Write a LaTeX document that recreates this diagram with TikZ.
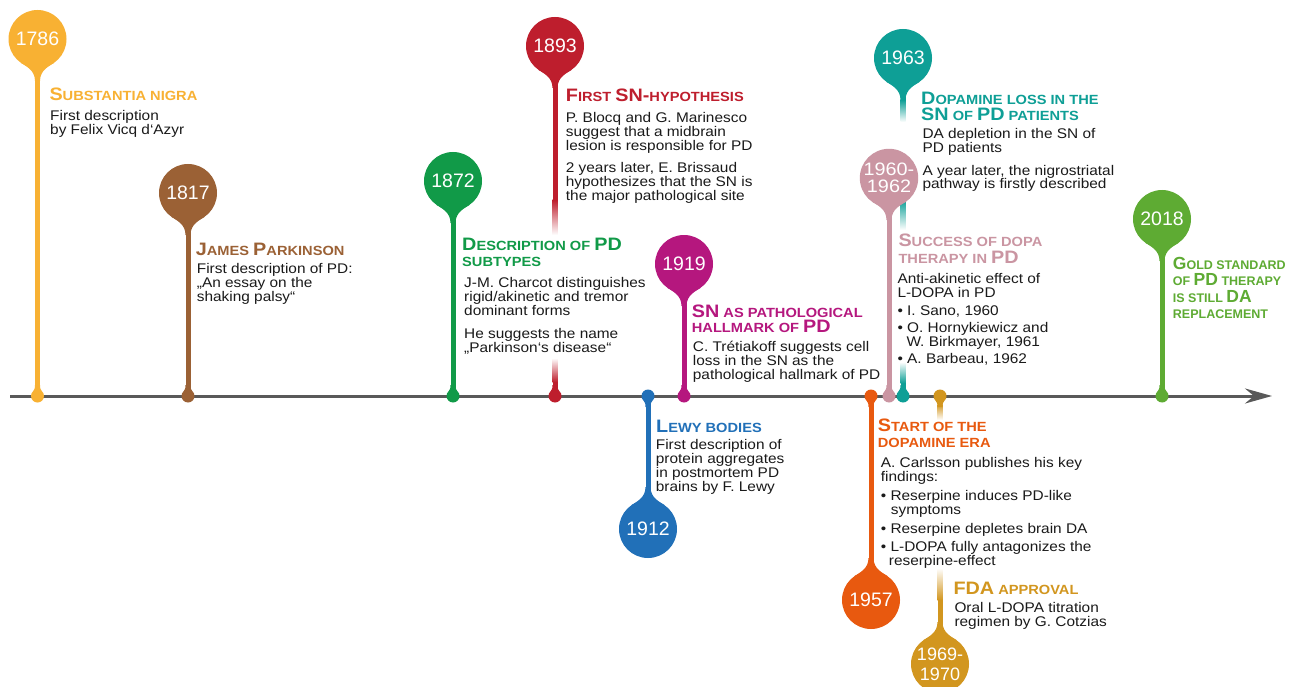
\documentclass[tikz,border=0pt]{standalone}
\usepackage{fontspec}
\setmainfont{Liberation Sans}[FakeStretch=1.1]
\newfontfamily\yearfont{Liberation Sans}
\usetikzlibrary{arrows.meta}

\definecolor{cA}{HTML}{F8B133}
\definecolor{cB}{HTML}{9B6135}
\definecolor{cC}{HTML}{119A48}
\definecolor{cD}{HTML}{BE1E2D}
\definecolor{cE}{HTML}{2170B8}
\definecolor{cF}{HTML}{B5177E}
\definecolor{cG}{HTML}{E8590F}
\definecolor{cH}{HTML}{CA95A2}
\definecolor{cI}{HTML}{0E9F96}
\definecolor{cJ}{HTML}{D2961F}
\definecolor{cK}{HTML}{5EAB33}
\definecolor{axisc}{HTML}{595959}
\definecolor{txtc}{HTML}{1A1A1A}

\newcommand\bigL[1]{{\fontsize{18}{18}\selectfont #1}}
\newcommand\bigK[1]{{\fontsize{17.5}{17.5}\selectfont #1}}
\newcommand\bstrut{\rule{0pt}{12pt}}
\newcommand\tstrut{\rule{0pt}{14pt}}
% balloon neck: x, y, direction (1 = downwards, -1 = upwards), colour
\newcommand\neck[4]{%
  \fill[#4] ({#1-16.6},{#2+(#3)*23.8}) .. controls ({#1-11.7},{#2+(#3)*27.2}) and ({#1-2.5},{#2+(#3)*31}) .. ({#1-2.5},{#2+(#3)*42})
   -- ({#1+2.5},{#2+(#3)*42}) .. controls ({#1+2.5},{#2+(#3)*31}) and ({#1+11.7},{#2+(#3)*27.2}) .. ({#1+16.6},{#2+(#3)*23.8}) -- cycle;}
\newcommand\dneck[4]{%
  \fill[#4] ({#1-4.2},{#2+(#3)*5}) .. controls ({#1-3},{#2+(#3)*6.5}) and ({#1-2.5},{#2+(#3)*7.5}) .. ({#1-2.5},{#2+(#3)*11})
   -- ({#1+2.5},{#2+(#3)*11}) .. controls ({#1+2.5},{#2+(#3)*7.5}) and ({#1+3},{#2+(#3)*6.5}) .. ({#1+4.2},{#2+(#3)*5}) -- cycle;}

\tikzset{
  year/.style={circle, minimum size=58pt, inner sep=0pt, text=white, font=\yearfont\fontsize{19.5}{20}\selectfont},
  yeartwo/.style={year, align=center, font=\fontsize{18}{16.7}\selectfont},
  axdot/.style={circle, minimum size=13pt, inner sep=0pt},
  stem/.style={line width=5pt},
  axisline/.style={line width=3pt, draw=axisc, -{Stealth[length=27pt,width=15pt,inset=9pt]}},
  ttl/.style={anchor=north west, inner sep=0pt, align=left, font=\bfseries\fontsize{13.3}{16}\selectfont},
  body/.style={anchor=north west, inner sep=0pt, align=left, text=txtc, font=\fontsize{14}{14}\selectfont},
}

\begin{document}
\begin{tikzpicture}[x=1pt,y=-1pt]
\useasboundingbox (0,0) rectangle (1303,687);
\fill[white] (0,0) rectangle (1303,687);

% faded stem pieces
\shade[top color=cD, bottom color=white] (552.5,200) rectangle (557.5,235);
\shade[top color=white, bottom color=cD] (552.5,358) rectangle (557.5,382);
\shade[top color=cI, bottom color=white] (900.5,100) rectangle (905.5,122);
\shade[top color=cI, bottom color=white] (900.5,200) rectangle (905.5,230);
\shade[top color=white, bottom color=cI] (900.5,362) rectangle (905.5,383);
\shade[top color=cJ, bottom color=white] (937.5,404) rectangle (942.5,420);
\shade[top color=white, bottom color=cJ] (937.5,568) rectangle (942.5,600);

% axis
\coordinate (axs) at (10,396);
\coordinate (axe) at (1272,396);
\draw[axisline] (axs) -- (axe);

% necks
\neck{37.5}{39}{1}{cA}   \dneck{37.5}{396}{-1}{cA}
\neck{188}{193}{1}{cB}   \dneck{188}{396}{-1}{cB}
\neck{453}{181}{1}{cC}   \dneck{453}{396}{-1}{cC}
\neck{555}{46}{1}{cD}    \dneck{555}{396}{-1}{cD}
\neck{648}{529}{-1}{cE}  \dneck{648}{396}{1}{cE}
\neck{684}{264}{1}{cF}   \dneck{684}{396}{-1}{cF}
\neck{871}{600}{-1}{cG}  \dneck{871}{396}{1}{cG}
\neck{903}{58}{1}{cI}    \dneck{903}{396}{-1}{cI}
\neck{889}{178}{1}{cH}   \dneck{889}{396}{-1}{cH}
\neck{940}{664}{-1}{cJ}  \dneck{940}{396}{1}{cJ}
\neck{1162}{219}{1}{cK}  \dneck{1162}{396}{-1}{cK}

% year balloons
\node[year, fill=cA] (y1786) at (37.5,39) {1786};
\node[year, fill=cB] (y1817) at (188,193) {1817};
\node[year, fill=cC] (y1872) at (453,181) {1872};
\node[year, fill=cD] (y1893) at (555,46) {1893};
\node[year, fill=cE] (y1912) at (648,529) {1912};
\node[year, fill=cF] (y1919) at (684,264) {1919};
\node[year, fill=cG] (y1957) at (871,600) {1957};
\node[year, fill=cI] (y1963) at (903,58) {1963};
\node[yeartwo, fill=cH] (y1960) at (889,178) {1960-\\1962};
\node[yeartwo, fill=cJ, font=\yearfont\fontsize{18}{20}\selectfont] (y1969) at (940,664) {1969-\\1970};
\node[year, fill=cK] (y2018) at (1162,219) {2018};

% axis dots
\node[axdot, fill=cA] (d1786) at (37.5,396) {};
\node[axdot, fill=cB] (d1817) at (188,396) {};
\node[axdot, fill=cC] (d1872) at (453,396) {};
\node[axdot, fill=cD] (d1893) at (555,396) {};
\node[axdot, fill=cE] (d1912) at (648,396) {};
\node[axdot, fill=cF] (d1919) at (684,396) {};
\node[axdot, fill=cG] (d1957) at (871,396) {};
\node[axdot, fill=cH] (d1960) at (889,396) {};
\node[axdot, fill=cI] (d1963) at (903,396) {};
\node[axdot, fill=cJ] (d1969) at (940,396) {};
\node[axdot, fill=cK] (d2018) at (1162,396) {};

% fade coordinates
\coordinate (f1893a) at (555,200);
\coordinate (f1893b) at (555,382);
\coordinate (f1963a) at (903,100);
\coordinate (f1963b) at (903,383);
\coordinate (f1969a) at (940,404);
\coordinate (f1969b) at (940,600);

% stems
\draw[stem, cA] (y1786) -- (d1786);
\draw[stem, cB] (y1817) -- (d1817);
\draw[stem, cC] (y1872) -- (d1872);
\draw[stem, cD] (y1893) -- (f1893a);
\draw[stem, cD] (f1893b) -- (d1893);
\draw[stem, cE] (d1912) -- (y1912);
\draw[stem, cF] (y1919) -- (d1919);
\draw[stem, cG] (d1957) -- (y1957);
\draw[stem, cH] (y1960) -- (d1960);
\draw[stem, cI] (y1963) -- (f1963a);
\draw[stem, cI] (f1963b) -- (d1963);
\draw[stem, cJ] (d1969) -- (f1969a);
\draw[stem, cJ] (f1969b) -- (y1969);
\draw[stem, cK] (y2018) -- (d2018);

% titles
\node[ttl, text=cA] (t1786) at (49.3,86.7) {\tstrut\bigL{S}UBSTANTIA NIGRA};
\node[ttl, text=cB] (t1817) at (195.7,241.7) {\tstrut\bigL{J}AMES \bigL{P}ARKINSON};
\node[ttl, text=cC] (t1872) at (462,236.7) {\tstrut\bigL{D}ESCRIPTION OF \bigL{PD}\\SUBTYPES};
\node[ttl, text=cD] (t1893) at (565.7,87.7) {\tstrut\bigL{F}IRST \bigL{SN-}HYPOTHESIS};
\node[ttl, text=cE] (t1912) at (656,418.7) {\tstrut\bigL{L}EWY BODIES};
\node[ttl, text=cF, font=\bfseries\fontsize{13.3}{15.4}\selectfont] (t1919) at (691.7,303.3) {\tstrut\bigL{SN} AS PATHOLOGICAL\\HALLMARK OF \bigL{PD}};
\node[ttl, text=cG, font=\bfseries\fontsize{13.3}{15.6}\selectfont] (t1957) at (877.7,417.7) {\tstrut\bigL{S}TART OF THE\\DOPAMINE ERA};
\node[ttl, text=cH, font=\bfseries\fontsize{13.3}{16.6}\selectfont] (t1960) at (898.3,232.7) {\tstrut\bigL{S}UCCESS OF DOPA\\THERAPY IN \bigL{PD}};
\node[ttl, text=cI, font=\bfseries\fontsize{13.3}{15.5}\selectfont] (t1963) at (921,90.5) {\tstrut\bigL{D}OPAMINE LOSS IN THE\\\bigL{SN} OF \bigL{PD} PATIENTS};
\node[ttl, text=cJ] (t1969) at (953.3,580) {\tstrut\bigL{FDA} APPROVAL};
\node[ttl, text=cK, font=\yearfont\bfseries\fontsize{12.5}{16.4}\selectfont] (t2018) at (1172.7,255) {\tstrut\bigK{G}OLD STANDARD\\OF \bigK{PD} THERAPY\\IS STILL \bigK{DA}\\REPLACEMENT};

% texts
\node[body] (b1786) at (50,108.7) {\bstrut First description\\by Felix Vicq d‘Azyr};
\node[body] (b1817) at (196.7,261.3) {\bstrut First description of PD:\\„An essay on the\\shaking palsy“};
\node[body] (b1872) at (464,275.3) {\bstrut J-M. Charcot distinguishes\\rigid/akinetic and tremor\\dominant forms\\[9pt]He suggests the name\\„Parkinson‘s disease“};
\node[body] (b1893) at (565.7,110.7) {\bstrut P. Blocq and G. Marinesco\\suggest that a midbrain\\lesion is responsible for PD\\[8pt]2 years later, E. Brissaud\\hypothesizes that the SN is\\the major pathological site};
\node[body] (b1912) at (655.7,437.3) {\bstrut First description of\\protein aggregates\\in postmortem PD\\brains by F. Lewy};
\node[body] (b1919) at (692.7,339.7) {\bstrut C. Trétiakoff suggests cell\\loss in the SN as the\\pathological hallmark of PD};
\node[body] (b1957) at (880.7,455.3) {\bstrut A. Carlsson publishes his key\\findings:\\[5pt]• Reserpine induces PD-like\\\hspace*{10pt}symptoms\\[5pt]• Reserpine depletes brain DA\\[4pt]• L-DOPA fully antagonizes the\\\hspace*{8pt}reserpine-effect};
\node[body] (b1960) at (897.3,271.3) {\bstrut Anti-akinetic effect of\\L-DOPA in PD\\[3.5pt]• I. Sano, 1960\\[3.5pt]• O. Hornykiewicz and\\\hspace*{9pt}W. Birkmayer, 1961\\[3pt]• A. Barbeau, 1962};
\node[body] (b1963) at (922.3,126.3) {\bstrut DA depletion in the SN of\\PD patients\\[8.5pt]A year later, the nigrostriatal\\pathway is firstly described};
\node[body] (b1969) at (954.3,600.3) {\bstrut Oral L-DOPA titration\\regimen by G. Cotzias};
\end{tikzpicture}
\end{document}
